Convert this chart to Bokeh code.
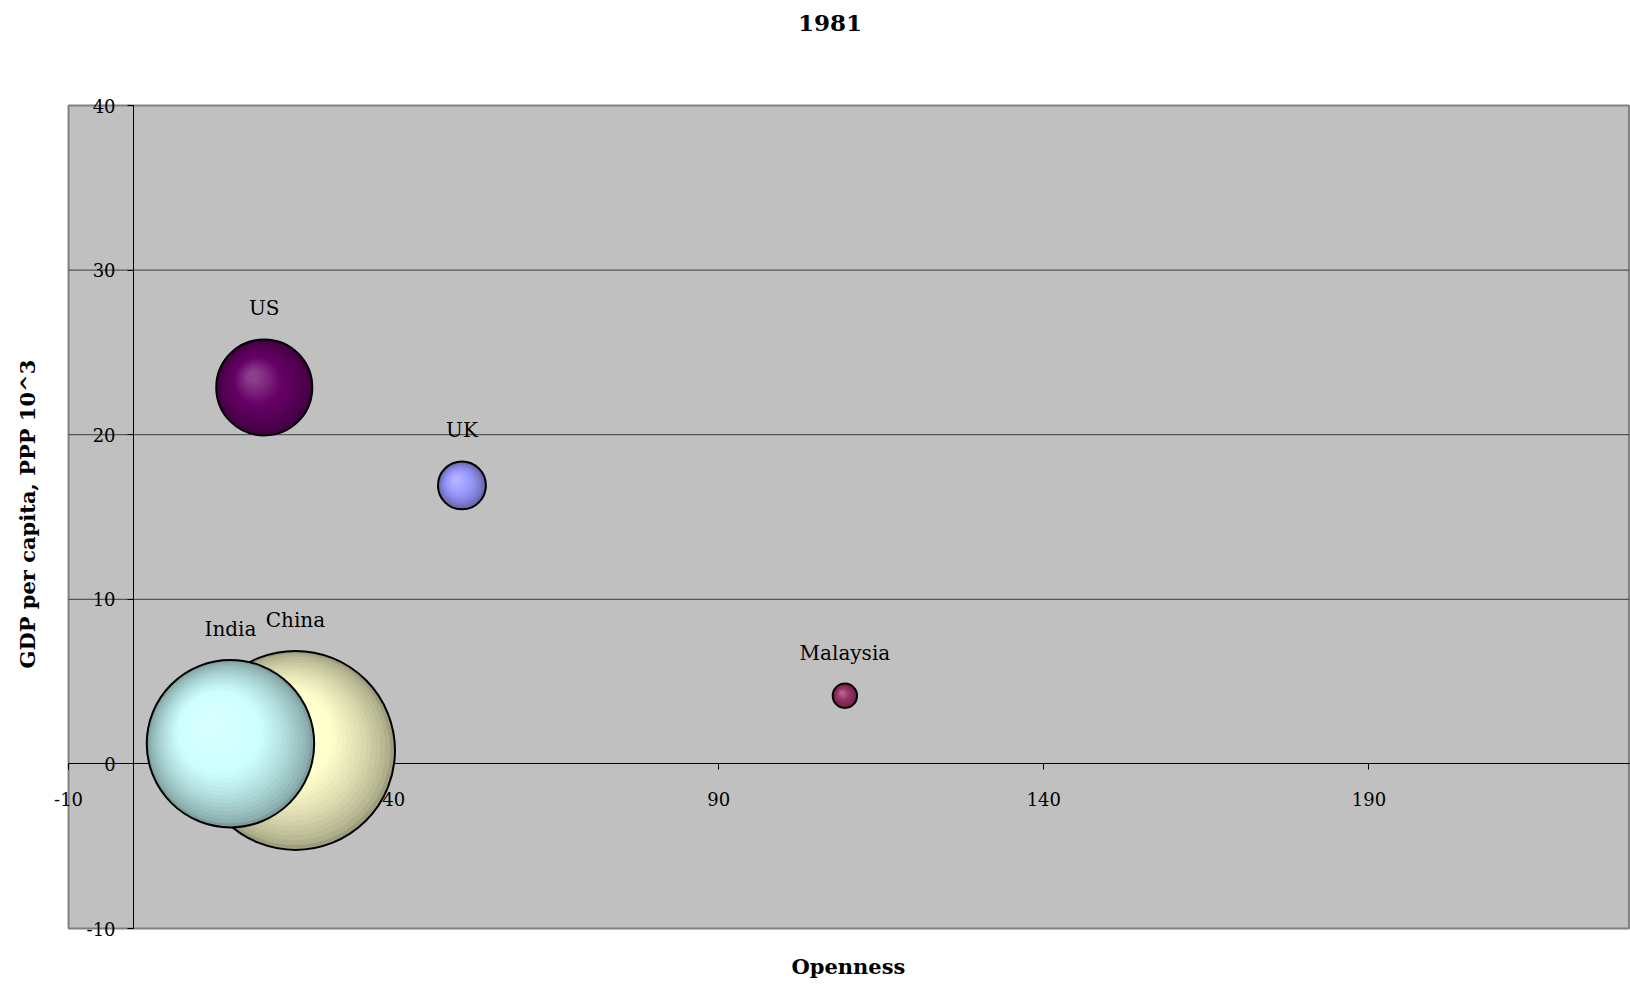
import math
from bokeh.plotting import figure
from bokeh.models import ColumnDataSource, FixedTicker, Title, Range1d, LinearAxis, Label
from bokeh.core.properties import value
from bokeh.embed import file_html
from bokeh.resources import INLINE

# ---- data ----
countries = ["China", "India", "US", "UK", "Malaysia"]
openness = [24.9, 14.9, 20.1, 50.5, 109.4]
gdp_ppp = [0.82, 1.23, 22.87, 16.92, 4.14]
population = [1000, 708, 233, 58, 15]
colors = ["#FFFFCC", "#CCFFFF", "#660066", "#9999FF", "#993366"]

x_ticks = [-10, 40, 90, 140, 190]
y_ticks = [-10, 0, 10, 20, 30, 40]
grid_ticks = [10, 20, 30]
x_bounds = [-10, 230]
y_bounds = [-10, 40]

# ---- layout ----
LEFT, BOTTOM = 44, 42
FW, FH = 1586, 942
PX_X, PX_Y = 6.502, 16.46
XS = -13.7
YS = -10.85
XE = XS + FW / PX_X
YE = YS + FH / PX_Y
MAX_R = 99.5
FONT = "DejaVu Serif"

p = figure(width=1630, height=984, frame_width=FW, frame_height=FH,
           x_range=Range1d(XS, XE), y_range=Range1d(YS, YE),
           output_backend="svg", toolbar_location=None,
           min_border_left=LEFT, min_border_right=0, min_border_top=0, min_border_bottom=BOTTOM)

p.background_fill_color = "white"
p.border_fill_color = "white"
p.outline_line_color = None
p.xgrid.visible = False
p.ygrid.visible = False

# plot area
p.quad(left=[x_bounds[0]], right=[x_bounds[1]], bottom=[y_bounds[0]], top=[y_bounds[1]],
       fill_color="#C0C0C0", line_color="#808080", line_width=2, level="image")
# gridlines
p.segment(x0=[x_bounds[0]] * len(grid_ticks), x1=[x_bounds[1]] * len(grid_ticks),
          y0=grid_ticks, y1=grid_ticks, line_color="#3a3a3a", line_width=1, level="underlay")

# axis lines (under the bubbles)
p.xaxis[0].bounds = tuple(x_bounds)
p.yaxis[0].bounds = tuple(y_bounds)
for ax in (p.xaxis[0], p.yaxis[0]):
    ax.fixed_location = 0
    ax.level = "underlay"
    ax.axis_line_color = "black"
    ax.axis_line_width = 1
    ax.major_tick_line_color = None
    ax.minor_tick_line_color = None
    ax.major_label_text_font_size = "0px"
    ax.major_label_text_color = None

# ticks and labels (above the bubbles)
xa = LinearAxis(fixed_location=0, ticker=FixedTicker(ticks=x_ticks))
ya = LinearAxis(fixed_location=0, ticker=FixedTicker(ticks=y_ticks))
for ax in (xa, ya):
    ax.axis_line_color = None
    ax.major_tick_line_color = "black"
    ax.major_tick_out = 6
    ax.major_tick_in = 0
    ax.minor_tick_line_color = None
    ax.major_label_text_font = FONT
    ax.major_label_text_font_size = "18px"
    ax.major_label_text_color = "black"
    ax.major_label_overrides = {-10: "-10"}
xa.major_label_standoff = 22
ya.major_label_standoff = 12
p.add_layout(xa, "below")
p.add_layout(ya, "left")

# titles
p.add_layout(Label(x=XS + (829.5 - LEFT) / PX_X, y=YE - 22 / PX_Y, text="1981",
                   text_align="center", text_baseline="middle", text_font=FONT,
                   text_font_size="23px", text_font_style="bold", text_color="black"))
p.add_layout(Title(text="Openness", align="left", offset=747, text_font=FONT, text_font_size="21px",
                   text_font_style="bold", text_color="black", standoff=18), "below")
p.add_layout(Title(text="GDP per capita, PPP 10^3", align="left", offset=274, text_font=FONT,
                   text_font_size="21px", text_font_style="bold", text_color="black",
                   standoff=10), "left")


def hex2rgb(h):
    h = h.lstrip("#")
    return [int(h[i:i + 2], 16) for i in (0, 2, 4)]


def rgb2hex(c):
    return "#%02x%02x%02x" % tuple(max(0, min(255, int(round(v)))) for v in c)


def mix(a, b, t):
    return [a[i] * (1 - t) + b[i] * t for i in range(3)]


N = 24
radii = [MAX_R * math.sqrt(v / max(population)) for v in population]

for k in range(len(countries)):
    base = hex2rgb(colors[k])
    dark = [v * 0.62 for v in base]
    light = mix(base, [255, 255, 255], 0.25)
    r = radii[k]
    xs, ys, sz, cs = [], [], [], []
    for i in range(N):
        tt = i / (N - 1)
        m = 0.33 * r * tt
        ri = (1 - tt) * r + tt * 0.12 * r
        if i == 0:
            ri = r
        xs.append(openness[k] - m / math.sqrt(2) / PX_X)
        ys.append(gdp_ppp[k] + m / math.sqrt(2) / PX_Y)
        sz.append(2 * ri)
        if tt < 0.55:
            c = mix(dark, base, (tt / 0.55) ** 0.7)
        else:
            c = mix(base, light, (tt - 0.55) / 0.45)
        cs.append(rgb2hex(c))
    src = ColumnDataSource(dict(x=xs, y=ys, size=sz, color=cs))
    p.scatter("x", "y", size="size", fill_color="color", line_color=None, source=src)
    p.scatter([openness[k]], [gdp_ppp[k]], size=2 * r, fill_color=None,
              line_color="black", line_width=2)

lab = ColumnDataSource(dict(x=openness, y=gdp_ppp, text=countries,
                            yoff=[-(r + 31) for r in radii]))
p.text("x", "y", text="text", y_offset="yoff", source=lab, text_align="center",
       text_baseline="middle", text_font=value(FONT), text_font_size="20px",
       text_color="black")

open("out.html", "w").write(file_html(p, INLINE))
